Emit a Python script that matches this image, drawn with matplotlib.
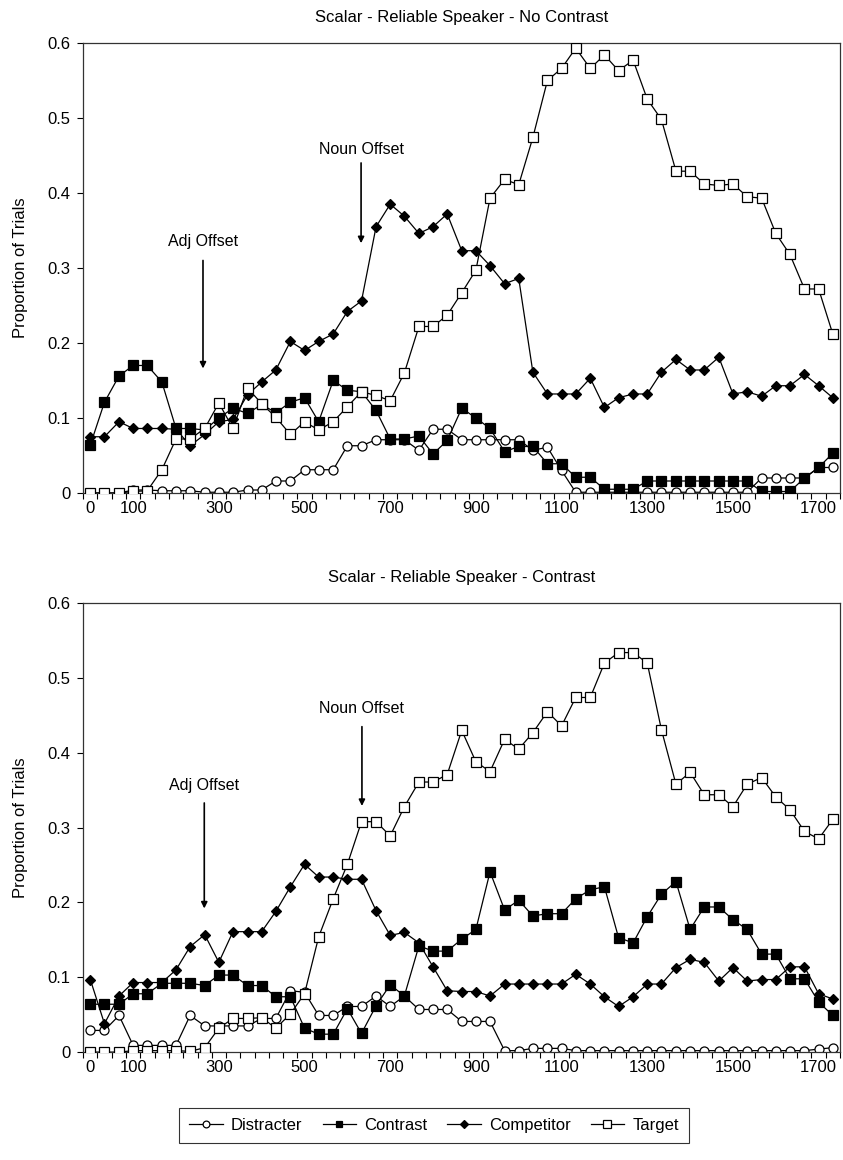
import numpy as np
import matplotlib
matplotlib.use('Agg')
import matplotlib.pyplot as plt
from matplotlib.lines import Line2D

plt.rcParams['font.family'] = ['Liberation Sans', 'DejaVu Sans']

# time bins (ms after onset), one point every 33 ms
time_ms = [0, 33, 67, 100, 133, 167, 200, 233, 267, 300,
           333, 367, 400, 433, 467, 500, 533, 567, 600, 633,
           667, 700, 733, 767, 800, 833, 867, 900, 933, 967,
           1000, 1033, 1067, 1100, 1133, 1167, 1200, 1233, 1267, 1300,
           1333, 1367, 1400, 1433, 1467, 1500, 1533, 1567, 1600, 1633,
           1667, 1700, 1733]
tick_labels = [0, 100, 300, 500, 700, 900, 1100, 1300, 1500, 1700]

# No Contrast condition
nc_distracter = [0, 0, 0, 0.004, 0.004, 0.003, 0.003, 0.003, 0.001, 0.001,
                 0.001, 0.004, 0.004, 0.016, 0.016, 0.031, 0.031, 0.031, 0.063, 0.063,
                 0.071, 0.071, 0.071, 0.057, 0.085, 0.085, 0.071, 0.071, 0.071, 0.071,
                 0.071, 0.057, 0.061, 0.03, 0.001, 0.001, 0.001, 0.001, 0.001, 0.001,
                 0.001, 0.001, 0.001, 0.001, 0.001, 0.001, 0.001, 0.02, 0.02, 0.02,
                 0.02, 0.034, 0.034]
nc_contrast = [0.064, 0.121, 0.156, 0.17, 0.17, 0.148, 0.086, 0.086, 0.084, 0.10,
               0.113, 0.106, 0.118, 0.107, 0.121, 0.127, 0.095, 0.15, 0.137, 0.135,
               0.11, 0.072, 0.072, 0.076, 0.052, 0.07, 0.113, 0.1, 0.086, 0.055,
               0.062, 0.062, 0.039, 0.039, 0.021, 0.021, 0.005, 0.005, 0.005, 0.016,
               0.016, 0.016, 0.016, 0.016, 0.016, 0.016, 0.016, 0.002, 0.002, 0.002,
               0.02, 0.034, 0.053]
nc_competitor = [0.075, 0.075, 0.095, 0.086, 0.086, 0.086, 0.085, 0.063, 0.078, 0.095,
                 0.098, 0.131, 0.148, 0.164, 0.202, 0.19, 0.202, 0.212, 0.242, 0.256,
                 0.355, 0.385, 0.369, 0.346, 0.355, 0.372, 0.323, 0.323, 0.303, 0.279,
                 0.286, 0.161, 0.132, 0.132, 0.132, 0.153, 0.114, 0.127, 0.132, 0.132,
                 0.161, 0.178, 0.164, 0.164, 0.181, 0.132, 0.135, 0.129, 0.143, 0.143,
                 0.158, 0.143, 0.127]
nc_target = [0, 0, 0, 0.002, 0.003, 0.031, 0.072, 0.072, 0.086, 0.12,
             0.086, 0.14, 0.119, 0.101, 0.078, 0.095, 0.084, 0.095, 0.115, 0.135,
             0.13, 0.123, 0.16, 0.222, 0.222, 0.237, 0.267, 0.297, 0.393, 0.418,
             0.411, 0.474, 0.55, 0.566, 0.593, 0.566, 0.584, 0.563, 0.577, 0.525,
             0.498, 0.429, 0.429, 0.412, 0.41, 0.412, 0.395, 0.393, 0.346, 0.318,
             0.272, 0.272, 0.212]

# Contrast condition
c_distracter = [0.029, 0.029, 0.049, 0.009, 0.009, 0.009, 0.009, 0.049, 0.035, 0.035,
                0.035, 0.035, 0.045, 0.045, 0.082, 0.08, 0.049, 0.049, 0.061, 0.061,
                0.075, 0.061, 0.075, 0.057, 0.057, 0.057, 0.041, 0.041, 0.041, 0.002,
                0.002, 0.005, 0.005, 0.005, 0.002, 0.002, 0.002, 0.002, 0.002, 0.002,
                0.002, 0.002, 0.002, 0.002, 0.002, 0.002, 0.002, 0.002, 0.002, 0.002,
                0.002, 0.004, 0.006]
c_contrast = [0.064, 0.064, 0.064, 0.078, 0.078, 0.092, 0.092, 0.092, 0.089, 0.103,
              0.103, 0.089, 0.089, 0.074, 0.074, 0.032, 0.024, 0.024, 0.058, 0.025,
              0.062, 0.09, 0.075, 0.142, 0.135, 0.135, 0.151, 0.164, 0.241, 0.19,
              0.203, 0.182, 0.185, 0.185, 0.205, 0.217, 0.221, 0.153, 0.146, 0.181,
              0.211, 0.228, 0.164, 0.194, 0.194, 0.177, 0.164, 0.131, 0.131, 0.098,
              0.098, 0.067, 0.049]
c_competitor = [0.097, 0.038, 0.075, 0.093, 0.093, 0.093, 0.11, 0.141, 0.157, 0.12,
                0.161, 0.161, 0.161, 0.188, 0.221, 0.251, 0.234, 0.234, 0.231, 0.231,
                0.189, 0.156, 0.16, 0.146, 0.114, 0.082, 0.081, 0.081, 0.075, 0.091,
                0.091, 0.091, 0.091, 0.091, 0.104, 0.091, 0.074, 0.061, 0.074, 0.091,
                0.091, 0.113, 0.124, 0.12, 0.095, 0.113, 0.095, 0.097, 0.097, 0.114,
                0.114, 0.078, 0.071]
c_target = [0, 0, 0, 0.002, 0.002, 0.002, 0.002, 0.001, 0.006, 0.032,
            0.045, 0.045, 0.046, 0.032, 0.051, 0.078, 0.154, 0.205, 0.251, 0.308,
            0.308, 0.289, 0.328, 0.361, 0.361, 0.371, 0.43, 0.388, 0.375, 0.418,
            0.405, 0.427, 0.455, 0.436, 0.474, 0.474, 0.52, 0.534, 0.534, 0.52,
            0.431, 0.358, 0.374, 0.344, 0.344, 0.328, 0.358, 0.367, 0.341, 0.324,
            0.295, 0.285, 0.311]

# marker, face colour, marker size, z-order for each series
styles = {
    'Distracter': ('o', 'white', 6.5, 2),
    'Contrast': ('s', 'black', 6.5, 4),
    'Competitor': ('D', 'black', 5.0, 3),
    'Target': ('s', 'white', 7.0, 5),
}


def draw_panel(ax, title, series, adj, noun):
    for name, vals in series:
        mk, fc, ms, z = styles[name]
        ax.plot(time_ms, vals, color='black', lw=0.9, marker=mk, ms=ms,
                mfc=fc, mec='black', mew=0.9, zorder=z, label=name)

    ax.set_xlim(-17, 1750)
    ax.set_ylim(0, 0.6)
    ax.set_yticks([0, 0.1, 0.2, 0.3, 0.4, 0.5, 0.6])
    ax.set_yticklabels(['0', '0.1', '0.2', '0.3', '0.4', '0.5', '0.6'])
    ax.set_xticks(tick_labels)
    ax.set_xticklabels([str(t) for t in tick_labels])
    ax.tick_params(axis='x', which='major', length=0, pad=6, labelsize=12)
    # small tick marks between the time bins
    bounds = [t - 100 / 6 for t in time_ms] + [time_ms[-1] + 100 / 6]
    ax.set_xticks(bounds, minor=True)
    ax.tick_params(axis='x', which='minor', length=4, width=0.8, direction='out')
    ax.tick_params(axis='y', length=4, width=0.8, labelsize=12, pad=5)
    for sp in ax.spines.values():
        sp.set_linewidth(0.9)
        sp.set_color('#333333')
    ax.set_ylabel('Proportion of Trials', fontsize=12, labelpad=14)
    ax.set_title(title, fontsize=12, pad=15)

    for label, (x, y_text, y_start, y_end) in (('Adj Offset', adj), ('Noun Offset', noun)):
        ax.text(x, y_text, label, ha='center', va='center', fontsize=11.5)
        ax.annotate('', xy=(x, y_end), xytext=(x, y_start),
                    arrowprops=dict(arrowstyle='-|>', color='black', lw=1.2,
                                    mutation_scale=9, shrinkA=0, shrinkB=0))


fig = plt.figure(figsize=(8.43, 11.6), dpi=100)
ax1 = fig.add_axes([0.0985, 0.575, 0.898, 0.388])
ax2 = fig.add_axes([0.0985, 0.093, 0.898, 0.387])

draw_panel(ax1, 'Scalar - Reliable Speaker - No Contrast',
           [('Distracter', nc_distracter), ('Contrast', nc_contrast),
            ('Competitor', nc_competitor), ('Target', nc_target)],
           adj=(263, 0.335, 0.31, 0.166), noun=(632, 0.458, 0.44, 0.333))
draw_panel(ax2, 'Scalar - Reliable Speaker - Contrast',
           [('Distracter', c_distracter), ('Contrast', c_contrast),
            ('Competitor', c_competitor), ('Target', c_target)],
           adj=(266, 0.357, 0.333, 0.192), noun=(634, 0.459, 0.435, 0.329))

handles = []
for name in ['Distracter', 'Contrast', 'Competitor', 'Target']:
    mk, fc, ms, z = styles[name]
    handles.append(Line2D([], [], color='black', lw=0.9, marker=mk, ms=ms * 0.75,
                          mfc=fc, mec='black', mew=0.9, label=name))
leg = fig.legend(handles=handles, loc='center', bbox_to_anchor=(0.515, 0.030),
                 ncol=4, frameon=True, fancybox=False, fontsize=12,
                 handlelength=2.0, handletextpad=0.5, columnspacing=1.2,
                 borderpad=0.6)
leg.get_frame().set_edgecolor('black')
leg.get_frame().set_linewidth(0.8)

fig.savefig('out.png', dpi=100)
